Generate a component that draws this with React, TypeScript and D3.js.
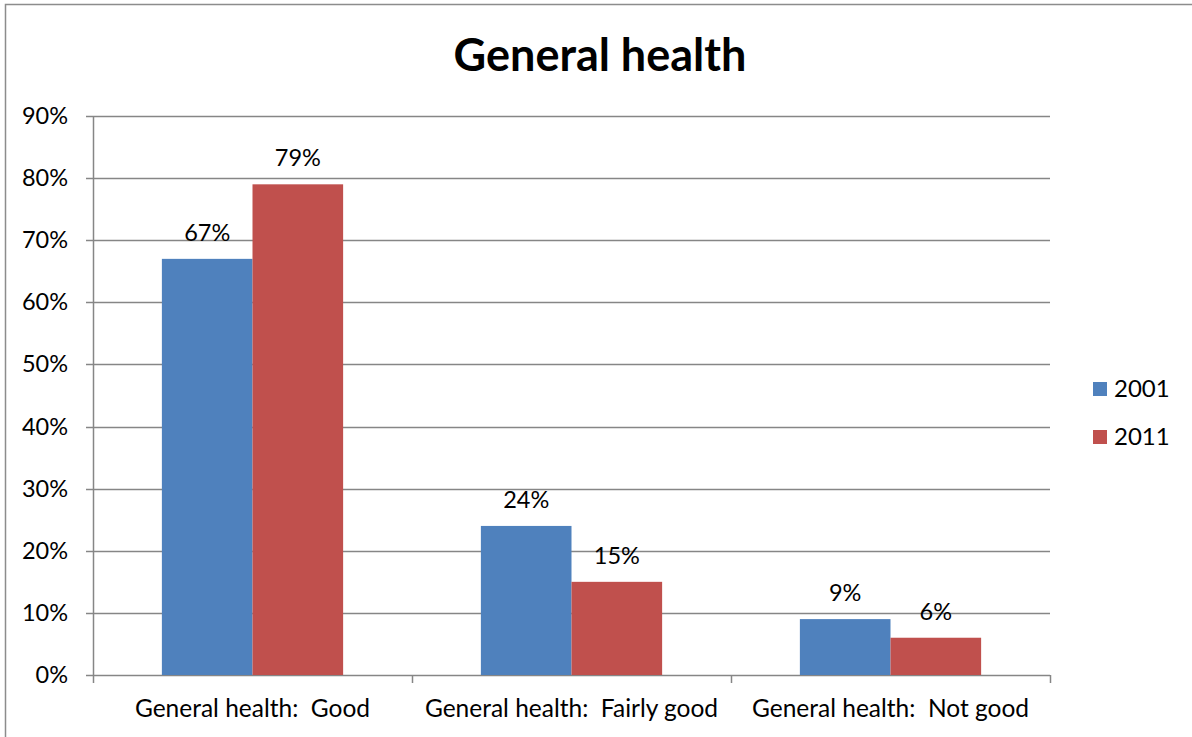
import React, { useEffect, useRef } from 'react';
import * as d3 from 'd3';

const categories = ['General health:  Good', 'General health:  Fairly good', 'General health:  Not good'];
const seriesNames = ['2001', '2011'];
const values2001 = [67, 24, 9];
const values2011 = [79, 15, 6];
const yTicks = [0, 10, 20, 30, 40, 50, 60, 70, 80, 90];

const COLORS = ['#4F81BD', '#C0504D'];
const FONT = 'Lato, "Open Sans", sans-serif';

export default function App(): JSX.Element {
  const ref = useRef<SVGSVGElement>(null);

  useEffect(() => {
    const el = ref.current;
    if (el == null) {
      return;
    }
    document.body.style.margin = '0';
    const svg = d3.select(el);
    svg.selectAll('*').remove();

    const W = 1192;
    const H = 737;
    const margin = { top: 116, right: 142, bottom: 62, left: 93 };

    // outer frame (only left and top edges are visible)
    svg.append('rect')
      .attr('x', 5.5).attr('y', 4.5)
      .attr('width', W + 10).attr('height', H + 10)
      .attr('fill', 'white').attr('stroke', '#8c8c8c').attr('stroke-width', 1.5);

    const x0 = d3.scaleBand<string>()
      .domain(categories)
      .range([margin.left, W - margin.right]);
    const x1 = d3.scaleBand<string>()
      .domain(seriesNames)
      .range([0, x0.bandwidth()])
      .paddingOuter(0.76);
    const y = d3.scaleLinear()
      .domain([0, 90])
      .range([H - margin.bottom, margin.top]);

    // gridlines + y ticks
    svg.append('g')
      .selectAll('line')
      .data(yTicks)
      .enter()
      .append('line')
      .attr('x1', margin.left - 7)
      .attr('x2', W - margin.right)
      .attr('y1', (d) => Math.round(y(d)) + 0.5)
      .attr('y2', (d) => Math.round(y(d)) + 0.5)
      .attr('stroke', '#868686')
      .attr('stroke-width', 1.5);

    svg.append('g')
      .selectAll('text')
      .data(yTicks)
      .enter()
      .append('text')
      .attr('x', 68)
      .attr('y', (d) => y(d) + 8)
      .attr('text-anchor', 'end')
      .attr('font-family', FONT)
      .attr('font-size', 23.5)
      .text((d) => `${d}%`);

    // y axis line
    svg.append('line')
      .attr('x1', margin.left + 0.5).attr('x2', margin.left + 0.5)
      .attr('y1', y(90)).attr('y2', y(0))
      .attr('stroke', '#868686').attr('stroke-width', 1.5);

    // x axis boundary ticks
    const bounds = categories.map((c) => x0(c) || 0).concat([W - margin.right]);
    svg.append('g')
      .selectAll('line')
      .data(bounds)
      .enter()
      .append('line')
      .attr('x1', (d) => Math.round(d) + 0.5)
      .attr('x2', (d) => Math.round(d) + 0.5)
      .attr('y1', y(0))
      .attr('y2', y(0) + 8)
      .attr('stroke', '#868686')
      .attr('stroke-width', 1.5);

    const rows = categories.map((c, i) => ({
      cat: c,
      vals: [
        { s: seriesNames[0], v: values2001[i] },
        { s: seriesNames[1], v: values2011[i] }
      ]
    }));

    const groups = svg.append('g')
      .selectAll('g')
      .data(rows)
      .enter()
      .append('g')
      .attr('transform', (d) => `translate(${x0(d.cat) || 0},0)`);

    groups.selectAll('rect')
      .data((d) => d.vals)
      .enter()
      .append('rect')
      .attr('x', (d) => x1(d.s) || 0)
      .attr('y', (d) => y(d.v))
      .attr('width', x1.bandwidth())
      .attr('height', (d) => y(0) - y(d.v))
      .attr('fill', (d, i) => COLORS[i]);

    groups.selectAll('text')
      .data((d) => d.vals)
      .enter()
      .append('text')
      .attr('x', (d) => (x1(d.s) || 0) + x1.bandwidth() / 2)
      .attr('y', (d) => y(d.v) - 18)
      .attr('text-anchor', 'middle')
      .attr('font-family', FONT)
      .attr('font-size', 23.5)
      .text((d) => `${d.v}%`);

    // category labels
    svg.append('g')
      .selectAll('text')
      .data(categories)
      .enter()
      .append('text')
      .attr('x', (d) => (x0(d) || 0) + x0.bandwidth() / 2)
      .attr('y', 717)
      .attr('text-anchor', 'middle')
      .attr('font-family', FONT)
      .attr('font-size', 24.5)
      .attr('xml:space', 'preserve')
      .style('white-space', 'pre')
      .text((d) => d);

    // title
    svg.append('text')
      .attr('x', 600)
      .attr('y', 71)
      .attr('text-anchor', 'middle')
      .attr('font-family', FONT)
      .attr('font-weight', 'bold')
      .attr('font-size', 45)
      .text('General health');

    // legend
    const legend = svg.append('g')
      .selectAll('g')
      .data(seriesNames)
      .enter()
      .append('g')
      .attr('transform', (d, i) => `translate(1093,${382 + i * 48})`);
    legend.append('rect')
      .attr('width', 14).attr('height', 14)
      .attr('fill', (d, i) => COLORS[i]);
    legend.append('text')
      .attr('x', 21)
      .attr('y', 15)
      .attr('font-family', FONT)
      .attr('font-size', 24)
      .text((d) => d);
  });

  return (
    <svg ref={ref} width={1192} height={737} style={{ display: 'block' }} />
  );
}
